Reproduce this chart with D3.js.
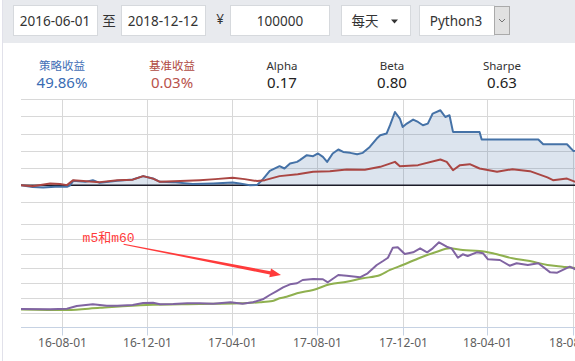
<!DOCTYPE html>
<html><head><meta charset="utf-8">
<script src="https://cdn.jsdelivr.net/npm/d3@7"></script>
<style>
html,body{margin:0;padding:0;background:#fff;overflow:hidden}
svg{display:block}
</style></head><body>
<svg id="c" width="575" height="361"></svg>
<script>
// ---------------- data ----------------
const toolbarStart = "2016-06-01";
const toolbarEnd = "2018-12-12";
const toolbarCapital = "100000";
const toolbarFreq = "每天";
const toolbarLang = "Python3";

const statLabels = ["策略收益", "基准收益", "Alpha", "Beta", "Sharpe"];
const statValues = ["49.86%", "0.03%", "0.17", "0.80", "0.63"];

const tickDates = ["2016-08-01","2016-12-01","2017-04-01","2017-08-01","2017-12-01","2018-04-01","2018-08-01"];
const topTicks = [-20, 0, 20, 40, 60, 80, 100];
const bottomTicks = [0.8, 1.0, 1.2, 1.4, 1.6, 1.8, 2.0, 2.2];

// strategy return (%)
const strategy = [
["2016-06-03",0],["2016-06-20",-2.3],["2016-07-05",-2.7],["2016-07-22",-1.9],["2016-08-08",-1.9],
["2016-08-12",-0.6],["2016-08-17",5.0],["2016-09-03",3.8],["2016-09-14",5.8],["2016-09-24",2.7],
["2016-10-19",5.0],["2016-11-10",6.6],["2016-11-25",10.5],["2016-12-09",7.8],["2016-12-19",3.8],
["2017-01-07",3.5],["2017-02-04",1.2],["2017-03-05",2.0],["2017-04-02",3.1],["2017-04-12",2.0],
["2017-04-26",0],["2017-05-07",0.3],["2017-05-15",6.6],["2017-05-25",16.6],["2017-06-08",22.1],
["2017-06-15",19.4],["2017-06-23",25.2],["2017-07-03",27.1],["2017-07-07",29.1],["2017-07-17",34.9],
["2017-07-26",33.7],["2017-08-02",36.9],["2017-08-09",32.9],["2017-08-15",27.1],["2017-08-23",36.9],
["2017-08-31",41.5],["2017-09-07",38.7],["2017-09-17",37.6],["2017-09-27",36.0],["2017-10-05",37.6],
["2017-10-15",44.5],["2017-10-25",54.3],["2017-10-30",58.1],["2017-11-08",60.1],["2017-11-13",69.8],
["2017-11-20",85.2],["2017-11-27",77.6],["2017-12-01",67.8],["2017-12-07",71.7],["2017-12-16",76.4],
["2017-12-23",73.6],["2017-12-30",69.8],["2018-01-06",71.7],["2018-01-13",83.4],["2018-01-24",87.2],
["2018-01-31",79.4],["2018-02-06",81.4],["2018-02-11",62.0],["2018-03-21",62.0],["2018-03-24",53.1],
["2018-06-13",53.1],["2018-06-20",47.7],["2018-07-24",47.7],["2018-08-02",39.9],["2018-09-15",44.0],
["2018-12-12",49.86]
];
// benchmark return (%)
const benchmark = [
["2016-06-03",0],["2016-06-20",-1.2],["2016-07-15",2.0],["2016-07-29",1.2],["2016-08-08",0],
["2016-08-17",5.8],["2016-09-10",4.1],["2016-09-24",3.5],["2016-10-19",5.8],["2016-11-10",6.4],
["2016-11-25",10.5],["2016-12-09",7.6],["2016-12-19",3.8],["2017-01-17",4.7],["2017-02-14",5.8],
["2017-03-08",7.0],["2017-04-02",8.5],["2017-04-19",7.0],["2017-05-07",4.7],["2017-05-18",5.8],
["2017-06-08",10.5],["2017-07-04",12.8],["2017-07-26",15.5],["2017-08-19",16.3],["2017-09-12",18.3],
["2017-10-08",18.0],["2017-10-30",21.3],["2017-11-20",27.1],["2017-11-27",22.1],["2017-12-23",23.3],
["2018-01-24",29.9],["2018-02-02",27.1],["2018-02-11",17.4],["2018-02-21",23.3],["2018-03-07",24.4],
["2018-03-21",19.4],["2018-04-15",15.5],["2018-05-07",18.6],["2018-06-01",16.3],["2018-06-26",9.0],
["2018-07-04",5.8],["2018-07-24",7.6],["2018-08-05",3.8],["2018-10-15",-2.0],["2018-12-12",0.03]
];
// m5 (purple)
const m5 = [
["2016-06-03",1.050],["2016-07-15",1.046],["2016-08-08",1.055],["2016-08-22",1.091],["2016-09-14",1.114],
["2016-10-04",1.094],["2016-10-19",1.095],["2016-11-10",1.105],["2016-11-25",1.132],["2016-12-09",1.136],
["2016-12-19",1.114],["2017-01-07",1.118],["2017-01-27",1.128],["2017-02-14",1.128],["2017-03-05",1.122],
["2017-03-30",1.141],["2017-04-16",1.122],["2017-05-01",1.141],["2017-05-15",1.182],["2017-05-25",1.240],
["2017-06-04",1.294],["2017-06-13",1.344],["2017-06-23",1.385],["2017-07-03",1.399],["2017-07-11",1.443],
["2017-07-26",1.457],["2017-08-09",1.453],["2017-08-16",1.412],["2017-08-31",1.511],["2017-09-12",1.501],
["2017-10-01",1.480],["2017-10-12",1.534],["2017-10-25",1.646],["2017-11-03",1.700],["2017-11-10",1.745],
["2017-11-17",1.881],["2017-11-24",1.886],["2017-12-04",1.795],["2017-12-16",1.818],["2017-12-26",1.872],
["2018-01-05",1.818],["2018-01-13",1.872],["2018-01-22",1.954],["2018-02-02",1.894],["2018-02-09",1.872],
["2018-02-18",1.745],["2018-02-25",1.791],["2018-03-04",1.768],["2018-03-17",1.818],["2018-03-26",1.805],
["2018-04-02",1.723],["2018-04-19",1.714],["2018-05-03",1.637],["2018-05-13",1.669],["2018-05-29",1.646],
["2018-06-13",1.669],["2018-06-30",1.547],["2018-07-10",1.542],["2018-07-28",1.623],["2018-08-05",1.588],
["2018-08-20",1.570]
];
// m60 (green)
const m60 = [
["2016-06-03",1.044],["2016-08-08",1.037],["2016-09-24",1.067],["2016-11-30",1.105],["2017-02-14",1.118],
["2017-04-12",1.128],["2017-05-11",1.141],["2017-05-29",1.159],["2017-06-08",1.195],["2017-06-18",1.217],
["2017-07-03",1.263],["2017-07-26",1.308],["2017-08-19",1.385],["2017-09-12",1.420],["2017-10-05",1.466],
["2017-10-30",1.511],["2017-11-13",1.579],["2017-12-01",1.646],["2017-12-26",1.745],["2018-01-19",1.826],
["2018-02-06",1.872],["2018-02-25",1.849],["2018-03-21",1.836],["2018-04-09",1.805],["2018-05-07",1.737],
["2018-06-01",1.700],["2018-06-26",1.646],["2018-07-18",1.623],["2018-08-05",1.606],["2018-08-25",1.595]
];
const annotationText = "m5和m60";
const annotationFrom = ["2016-10-28", 1.927];
const annotationTo = ["2017-06-10", 1.511];

// ---------------- drawing ----------------
const parse = d3.timeParse("%Y-%m-%d");
const fmt = d3.timeFormat("%y-%m-%d");
const svg = d3.select("#c");
const W = 575, H = 361;
const FONT = "'Noto Sans','Noto Sans CJK SC',sans-serif";

// toolbar
svg.append("rect").attr("x",3).attr("y",0).attr("width",W-3).attr("height",43).attr("fill","#e8eaee");
svg.append("line").attr("x1",2.5).attr("x2",2.5).attr("y1",0).attr("y2",H).attr("stroke","#e1e1ea");

const boxes = [
  {x:13, w:84, t:toolbarStart, cx:55},
  {x:121, w:84, t:toolbarEnd, cx:163},
  {x:230, w:99, t:toolbarCapital, cx:280},
  {x:341, w:69, t:toolbarFreq, cx:365},
  {x:419, w:75, t:toolbarLang, cx:456}
];
boxes.forEach(b=>{
  svg.append("rect").attr("x",b.x+0.5).attr("y",5.5).attr("width",b.w).attr("height",30)
    .attr("fill","#fff").attr("stroke","#d6d9dd");
  svg.append("text").attr("x",b.cx).attr("y",25.5).attr("text-anchor","middle")
    .attr("font-family",FONT).attr("font-size",13.5).attr("fill","#333").text(b.t);
});
svg.append("text").attr("x",109).attr("y",25.5).attr("text-anchor","middle")
  .attr("font-family",FONT).attr("font-size",13.5).attr("fill","#333").text("至");
svg.append("text").attr("x",220).attr("y",24).attr("text-anchor","middle")
  .attr("font-family",FONT).attr("font-size",13.5).attr("fill","#333").text("¥");
// caret
svg.append("path").attr("d","M391,19.5 L398,19.5 L394.5,23.5 Z").attr("fill","#333");
// select button
svg.append("rect").attr("x",494.5).attr("y",6.5).attr("width",15).attr("height",28)
  .attr("fill","#e1e1e1").attr("stroke","#aaaaaa");
svg.append("path").attr("d","M499,19 L502,22 L505,19").attr("fill","none").attr("stroke","#555").attr("stroke-width",0.8);

// stats
const statX = [62,172,282,392,502];
const labelColors = ["#4470b6","#b04a42","#333","#333","#333"];
const valueColors = ["#3a6cb3","#b8524b","#222","#222","#222"];
statLabels.forEach((l,i)=>{
  svg.append("text").attr("x",statX[i]).attr("y",69.5).attr("text-anchor","middle")
    .attr("font-family",FONT).attr("font-size",11.5).attr("fill",labelColors[i]).text(l);
  svg.append("text").attr("x",statX[i]).attr("y",88).attr("text-anchor","middle")
    .attr("font-family",FONT).attr("font-size",15).attr("fill",valueColors[i]).text(statValues[i]);
});

// scales
const x = d3.scaleTime().domain([parse("2016-06-01"), parse("2018-12-12")]).range([19.4, 665.6]);
const yTop = d3.scaleLinear().domain([-20,100]).range([202.3, 99.3]);
const yBot = d3.scaleLinear().domain([0.8,2.2]).range([327.5, 224.1]);
const plotL = 21;
const crisp = v => Math.round(v) + 0.5;

const grid = svg.append("g");
topTicks.forEach(t=>{
  grid.append("line").attr("x1",plotL).attr("x2",W).attr("y1",crisp(yTop(t))).attr("y2",crisp(yTop(t)))
    .attr("stroke","#d8d8d8");
});
bottomTicks.slice(1).forEach(t=>{
  grid.append("line").attr("x1",plotL).attr("x2",W).attr("y1",crisp(yBot(t))).attr("y2",crisp(yBot(t)))
    .attr("stroke","#d8d8d8");
});
tickDates.forEach(d=>{
  const xx = crisp(x(parse(d)));
  grid.append("line").attr("x1",xx).attr("x2",xx).attr("y1",crisp(yTop(100))).attr("y2",crisp(yBot(0.8)))
    .attr("stroke","#d8d8d8");
});

// clip
svg.append("defs").append("clipPath").attr("id","plot")
  .append("rect").attr("x",plotL).attr("y",95).attr("width",W-plotL).attr("height",235);
const plot = svg.append("g").attr("clip-path","url(#plot)");

const sData = strategy.map(d=>({d:parse(d[0]), v:d[1]}));
const bData = benchmark.map(d=>({d:parse(d[0]), v:d[1]}));
plot.append("path").datum(sData)
  .attr("d", d3.area().x(p=>x(p.d)).y0(yTop(0)).y1(p=>yTop(p.v)))
  .attr("fill","rgba(69,114,167,0.19)");
plot.append("line").attr("x1",plotL).attr("x2",W).attr("y1",yTop(0)).attr("y2",yTop(0))
  .attr("stroke","#1b1b28").attr("stroke-width",1.5);
plot.append("path").datum(sData)
  .attr("d", d3.line().x(p=>x(p.d)).y(p=>yTop(p.v)))
  .attr("fill","none").attr("stroke","#4572a7").attr("stroke-width",2).attr("stroke-linejoin","round");
plot.append("path").datum(bData)
  .attr("d", d3.line().x(p=>x(p.d)).y(p=>yTop(p.v)))
  .attr("fill","none").attr("stroke","#aa4643").attr("stroke-width",2).attr("stroke-linejoin","round");

const gData = m60.map(d=>({d:parse(d[0]), v:d[1]}));
const pData = m5.map(d=>({d:parse(d[0]), v:d[1]}));
plot.append("path").datum(gData)
  .attr("d", d3.line().curve(d3.curveMonotoneX).x(p=>x(p.d)).y(p=>yBot(p.v)))
  .attr("fill","none").attr("stroke","#8fb04f").attr("stroke-width",2);
plot.append("path").datum(pData)
  .attr("d", d3.line().x(p=>x(p.d)).y(p=>yBot(p.v)))
  .attr("fill","none").attr("stroke","#8064a2").attr("stroke-width",2).attr("stroke-linejoin","round");

// bottom axis
const axisY = crisp(yBot(0.8)) - 1;
svg.append("line").attr("x1",plotL).attr("x2",W).attr("y1",axisY).attr("y2",axisY).attr("stroke","#c6d2e3");
tickDates.forEach(d=>{
  const xx = crisp(x(parse(d)));
  svg.append("line").attr("x1",xx).attr("x2",xx).attr("y1",axisY).attr("y2",axisY+8).attr("stroke","#c6d2e3");
  svg.append("text").attr("x",xx).attr("y",346.5).attr("text-anchor","middle")
    .attr("font-family",FONT).attr("font-size",12).attr("fill","#606060").text(fmt(parse(d)));
});

// annotation arrow
const p0 = [x(parse(annotationFrom[0])), yBot(annotationFrom[1])];
const p1 = [x(parse(annotationTo[0])), yBot(annotationTo[1])];
const dx = p1[0]-p0[0], dy = p1[1]-p0[1], len = Math.hypot(dx,dy);
const u = [dx/len, dy/len], n = [-u[1], u[0]];
const hb = [p1[0]-u[0]*11, p1[1]-u[1]*11];
const pt = (p,k)=>[p[0]+n[0]*k, p[1]+n[1]*k];
const poly = [pt(p0,0.5), pt(hb,1.6), pt(hb,4.5), p1, pt(hb,-4.5), pt(hb,-1.6), pt(p0,-0.5)];
svg.append("path").attr("d","M"+poly.map(p=>p.join(",")).join("L")+"Z").attr("fill","#ff3b3b");
svg.append("text").attr("x",p0[0]-41).attr("y",p0[1]-2)
  .attr("font-family","'Liberation Mono','Noto Sans CJK SC',monospace").attr("font-size",13)
  .attr("fill","#ff3b3b").text(annotationText);
</script>
</body></html>
